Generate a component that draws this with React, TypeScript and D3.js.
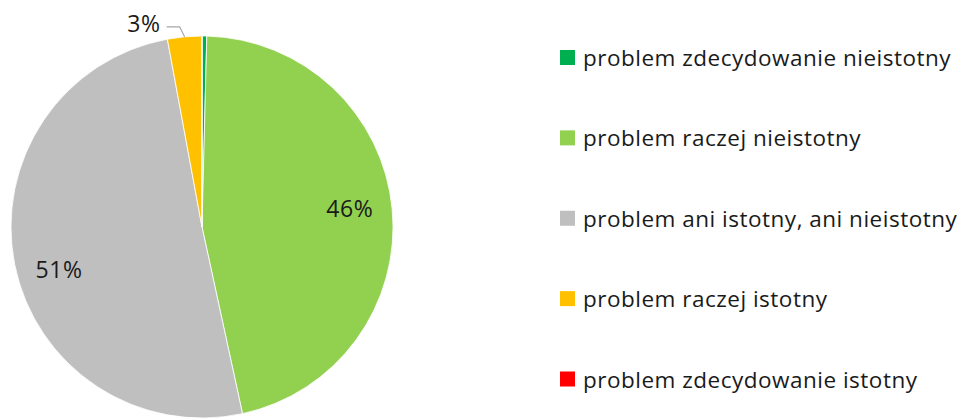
import React from "react";
import * as d3 from "d3";

const categories = [
  "problem zdecydowanie nieistotny",
  "problem raczej nieistotny",
  "problem ani istotny, ani nieistotny",
  "problem raczej istotny",
  "problem zdecydowanie istotny",
];
const values = [0.4, 46.2, 50.5, 2.9, 0.0];
const labels = ["", "46%", "51%", "3%", ""];
const colors = ["#00b050", "#92d050", "#bfbfbf", "#ffc000", "#ff0000"];

const W = 958;
const H = 419;
const FONT = "'Open Sans', Lato, sans-serif";
// small angular nudge for inside labels (radians), mimicking best-fit placement
const labelNudge = [0, -0.035, -0.09, 0, 0];

export default function App() {
  const cx = 202;
  const cy = 227;
  const r = 191;
  const pie = d3.pie<number>().sort(null).value((d) => d)(values);
  const arc = d3.arc<d3.PieArcDatum<number>>().innerRadius(0).outerRadius(r);
  const lr = r * 0.78;

  const legendY = d3.scalePoint<string>().domain(categories).range([57.5, 379]);

  // 3% label outside with leader line
  const yellow = pie[3];
  const yMid = (yellow.startAngle + yellow.endAngle) / 2;
  const edge: [number, number] = [Math.sin(yMid) * r, -Math.cos(yMid) * r];
  const elbow: [number, number] = [edge[0] - 5, edge[1] - 10];
  const lineEnd: [number, number] = [elbow[0] - 13, elbow[1]];

  return (
    <svg width={W} height={H} style={{ position: "absolute", left: 0, top: 0 }}>
      <rect width={W} height={H} fill="#ffffff" />
      <g transform={`translate(${cx},${cy})`}>
        {pie.map((p, i) => (
          <path key={i} d={arc(p) || ""} fill={colors[i]} stroke="#ffffff" strokeWidth={0.8} />
        ))}
        {pie.map((p, i) => {
          if (!labels[i] || i === 3) return null;
          const a = (p.startAngle + p.endAngle) / 2 + labelNudge[i];
          const x = Math.sin(a) * lr;
          const y = -Math.cos(a) * lr;
          return (
            <text key={i} x={x} y={y} textAnchor="middle" dominantBaseline="central"
              fontFamily={FONT} fontSize={23} letterSpacing={0.6} fill="#1a1a1a">
              {labels[i]}
            </text>
          );
        })}
        <polyline points={[edge, elbow, lineEnd].map((p) => p.join(",")).join(" ")}
          fill="none" stroke="#a6a6a6" strokeWidth={1.2} />
        <text x={lineEnd[0] - 6} y={lineEnd[1] - 4} textAnchor="end" dominantBaseline="central"
          fontFamily={FONT} fontSize={23} letterSpacing={0.6} fill="#1a1a1a">
          {labels[3]}
        </text>
      </g>
      <g>
        {categories.map((c, i) => {
          const y = legendY(c) as number;
          return (
            <g key={c}>
              <rect x={560} y={y - 7.5} width={15} height={15} fill={colors[i]} />
              <text x={583} y={y} dominantBaseline="central" fontFamily={FONT} fontSize={22.5}
                letterSpacing={0.5} fill="#1a1a1a">
                {c}
              </text>
            </g>
          );
        })}
      </g>
    </svg>
  );
}
